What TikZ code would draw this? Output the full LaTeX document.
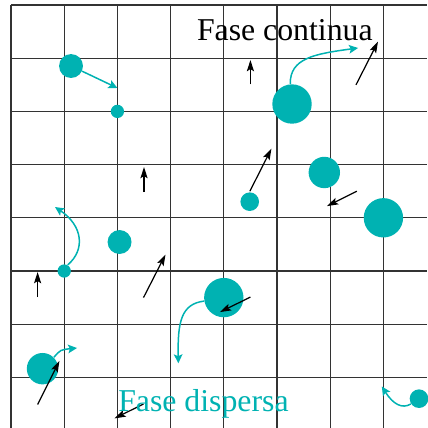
\documentclass[tikz,border=0pt]{standalone}
\usepackage{fontspec}
\setmainfont{Liberation Serif}
\usepackage{xcolor}
\usepackage{tikz}
\usetikzlibrary{arrows.meta}
\definecolor{gota}{RGB}{0,178,178}

\begin{document}
\begin{tikzpicture}[x=1cm, y=-1cm,
  every node/.style={font=\fontsize{17}{20}\selectfont, inner sep=0pt},
  gridline/.style={black!80, line width=0.7pt},
  drop/.style={circle, fill=gota, minimum size=#1, inner sep=0pt},
  flow/.style={line width=0.65pt, -{Stealth[length=6pt,width=3.8pt,inset=1.2pt]}},
  traj/.style={gota, line width=0.8pt, -{Stealth[length=4.8pt,width=4.6pt,inset=1pt]}}]
  \useasboundingbox (-0.207,-0.094) rectangle (7.82,7.951);
  \foreach \k in {0,...,7} {
    \draw[gridline] (\k,0) -- (\k,7.951);
    \draw[gridline] (0,\k) -- (7.82,\k);
  }
  % gotas
  \node[drop=0.45cm]  (d1)  at (1.128,1.147) {};
  \node[drop=0.25cm]  (d2)  at (2,2) {};
  \node[drop=0.74cm]  (d3)  at (5.282,1.861) {};
  \node[drop=0.59cm]  (d4)  at (5.889,3.148) {};
  \node[drop=0.35cm]  (d5)  at (4.487,3.697) {};
  \node[drop=0.74cm]  (d6)  at (7,4) {};
  \node[drop=0.45cm]  (d7)  at (2.04,4.455) {};
  \node[drop=0.25cm]  (d8)  at (1,5) {};
  \node[drop=0.74cm]  (d9)  at (4,5.5) {};
  \node[drop=0.59cm]  (d10) at (0.592,6.836) {};
  \node[drop=0.35cm]  (d11) at (7.669,7.4) {};
  \coordinate (t1) at (2.0,1.56);
  \coordinate (t3) at (6.523,0.808);
  \coordinate (t8) at (0.827,3.797);
  \coordinate (t9) at (3.145,6.735);
  \coordinate (t10) at (1.241,6.447);
  \coordinate (t11) at (6.97,7.17);
  \draw[traj] (d1.-25) -- (t1);
  \draw[traj] (d3.95) .. controls (5.24,1.0) and (5.7,0.92) .. (t3);
  \draw[traj] (d8.60) .. controls (1.4,4.6) and (1.35,4.15) .. (t8);
  \draw[traj] (d9.190) .. controls (3.2,5.62) and (3.13,5.95) .. (t9);
  \draw[traj] (d10.45) .. controls (0.93,6.48) .. (t10);
  \draw[traj] (d11.213) .. controls (7.35,7.6) and (7.18,7.5) .. (t11);
  % fase continua
  \foreach \x/\y/\dx/\dy in {2.5/3.515/0/-0.47, 4.5/1.49/0/-0.455,
      6.485/1.5/0.413/-0.81, 4.49/3.5/0.405/-0.8, 6.5/3.5/-0.56/0.28,
      0.5/5.49/0/-0.47, 2.49/5.5/0.414/-0.81, 4.5/5.49/-0.573/0.282,
      0.5/7.51/0.41/-0.82, 2.49/7.5/-0.545/0.27} {
    \draw[flow] (\x,\y) -- ++(\dx,\dy);
  }
  \node[anchor=base west] (cont) at (3.49,0.667) {Fase continua};
  \node[anchor=base west, text=gota] (disp) at (2.01,7.65) {Fase dispersa};
\end{tikzpicture}
\end{document}
